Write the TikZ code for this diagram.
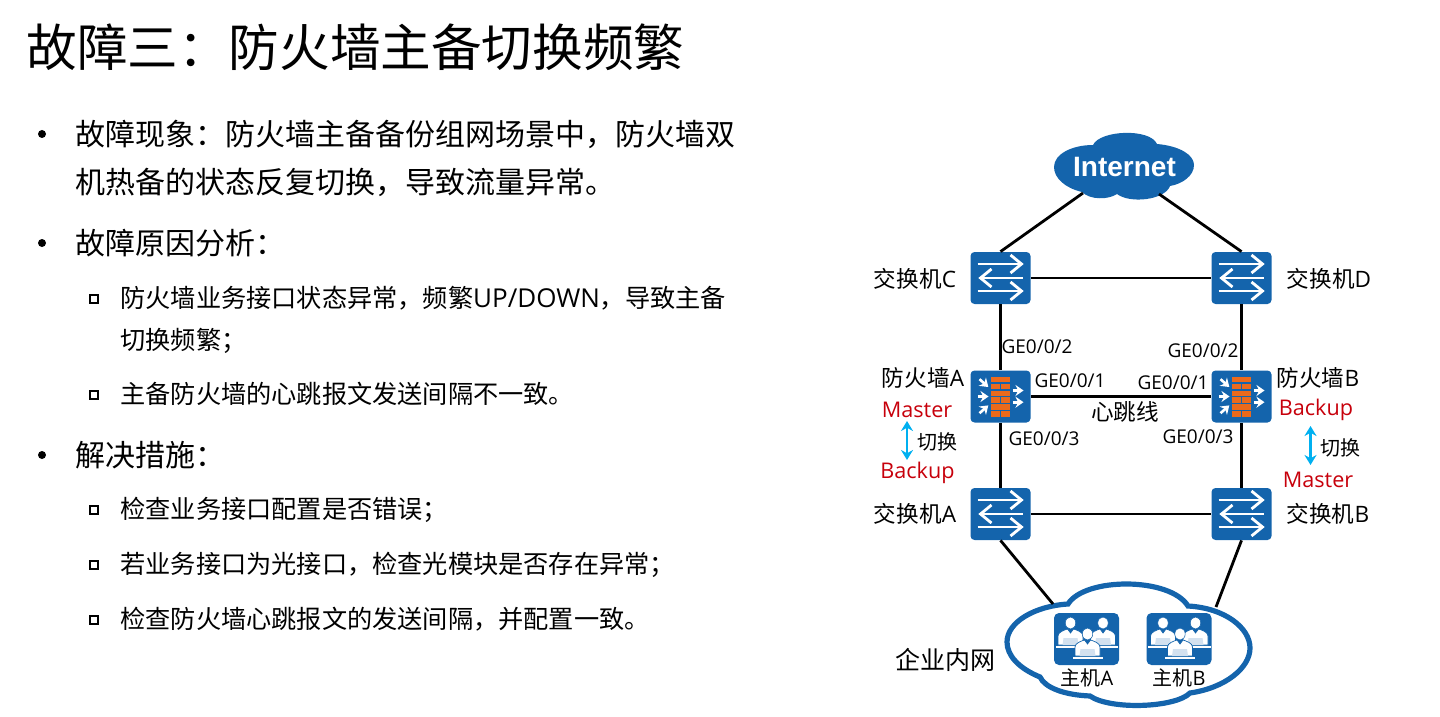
\documentclass[tikz,border=0pt]{standalone}
\usepackage{fontspec}
\setmainfont{Noto Sans CJK SC}
\newfontfamily\la{Open Sans}
\newfontfamily\lb{Liberation Sans}
\usetikzlibrary{arrows.meta}
\definecolor{hwblue}{HTML}{1464AC}
\definecolor{hwred}{HTML}{C7000B}
\definecolor{hworange}{HTML}{EB6A1C}
\definecolor{hwcyan}{HTML}{00B0F0}
\definecolor{hwpale}{HTML}{D3E1EF}
\tikzset{
  x=0.5pt,y=-0.5pt,
  devbox/.style={fill=hwblue,rounded corners=2pt,minimum width=30pt,minimum height=26pt,inner sep=0pt,draw=none},
  hostbox/.style={fill=hwblue,rounded corners=2.5pt,minimum width=32.5pt,minimum height=26pt,inner sep=0pt,draw=none},
  link/.style={draw=black,line width=1.4pt},
  swaparrow/.style={draw=hwcyan,line width=1.3pt,{Stealth[length=5pt,width=6pt]}-{Stealth[length=5pt,width=6pt]}},
  lbl/.style={inner sep=0pt,anchor=center},
  name11/.style={lbl,font=\fontsize{11.3}{13}\selectfont},
  cut10/.style={lbl,font=\fontsize{10}{12}\selectfont},
  ge/.style={lbl,font=\la\fontsize{9.5}{11}\selectfont},
  state/.style={lbl,text=hwred,font=\la\fontsize{10.8}{13}\selectfont},
  title/.style={inner sep=0pt,anchor=west,font=\fontsize{25.3}{30}\selectfont},
  body/.style={inner sep=0pt,anchor=west,font=\fontsize{15}{18}\selectfont},
  sub/.style={inner sep=0pt,anchor=west,font=\fontsize{12.6}{15}\selectfont},
  dot/.style={circle,fill=black,draw=none,inner sep=0pt,minimum size=4pt},
  sq/.style={rectangle,draw=black,fill=white,line width=1pt,inner sep=0pt,minimum size=3.6pt},
  chev/.style={draw=white,line width=1.4pt,line join=miter},
  wharrow/.style={draw=white,line width=1.3pt,-{Stealth[length=4pt,width=5.5pt]}},
  pics/swicon/.style={code={
    \draw[chev] (-23,-14) -- (21,-14);
    \draw[chev] (10,-23) -- (21,-14) -- (10,-5);
    \draw[chev] (22,0) -- (-20,0);
    \draw[chev] (-9,-9) -- (-20,0) -- (-9,9);
    \draw[chev] (-23,13) -- (21,13);
    \draw[chev] (10,4) -- (21,13) -- (10,22);
  }},
  pics/fwicon/.style={code={
    \fill[hworange] (-9.5,-20) rectangle (9.5,-14.5);
    \fill[hworange] (-9.5,-13) rectangle (-1,-7.5);
    \fill[hworange] (0.5,-13) rectangle (9.5,-7.5);
    \fill[hworange] (-9.5,-6) rectangle (9.5,-0.5);
    \fill[hworange] (-9.5,0.5) rectangle (-1,6);
    \fill[hworange] (0.5,0.5) rectangle (9.5,6);
    \fill[hworange] (-9.5,7.5) rectangle (9.5,13);
    \fill[hworange] (-9.5,14.5) rectangle (-1,20);
    \fill[hworange] (0.5,14.5) rectangle (9.5,20);
    \draw[wharrow] (-21,-17.3) -- (-12.2,-9.5);
    \draw[wharrow] (-22.7,0) -- (-12,0);
    \draw[wharrow] (-21,16.7) -- (-12.2,8.9);
    \draw[wharrow] (12.3,-6) -- (23,-6);
    \draw[wharrow] (12.3,5.7) -- (23,5.7);
  }},
  pics/person/.style={code={
    \fill[white,draw=hwblue,line width=0.25pt] (0,0) ellipse [x radius=5.2,y radius=6];
    \fill[white,draw=hwblue,line width=0.35pt] (-12.5,22) -- (-12.5,13) .. controls (-12.5,9) and (-6,7) .. (-3,6) -- (0,10) -- (3,6) .. controls (6,7) and (12.5,9) .. (12.5,13) -- (12.5,22) -- cycle;
    \fill[hwpale] (-8,22) -- (-7,15) -- (7,15) -- (8,22) -- cycle;
    \fill[white] (-15,23) rectangle (15,24.5);
  }},
  pics/teamicon/.style={code={
    \pic at (-16,-16) {person};
    \pic at (16.5,-16) {person};
    \pic at (1,-5) {person};
  }}
}
\begin{document}
\begin{tikzpicture}
\useasboundingbox (0,0) rectangle (1440,717);
% left text
\node[title] (t0) at (26,47) {故障三：防火墙主备切换频繁};
\node[dot] (b1) at (42,134) {};
\node[body] (l1) at (75,134) {故障现象：防火墙主备备份组网场景中，防火墙双};
\node[body] (l2) at (75,182) {机热备的状态反复切换，导致流量异常。};
\node[dot] (b2) at (42,243) {};
\node[body] (l3) at (75,243) {故障原因分析：};
\node[sq] (s1) at (94,299) {};
\node[sub] (l4) at (120,298) {防火墙业务接口状态异常，频繁{\la\fontsize{13}{15}\selectfont UP/DOWN}，导致主备};
\node[sub] (l5) at (120,341) {切换频繁；};
\node[sq] (s2) at (94,395) {};
\node[sub] (l6) at (120,394) {主备防火墙的心跳报文发送间隔不一致。};
\node[dot] (b3) at (42,455) {};
\node[body] (l7) at (75,455) {解决措施：};
\node[sq] (s3) at (94,510) {};
\node[sub] (l8) at (120,510) {检查业务接口配置是否错误；};
\node[sq] (s4) at (94,565) {};
\node[sub] (l9) at (120,565) {若业务接口为光接口，检查光模块是否存在异常；};
\node[sq] (s5) at (94,620) {};
\node[sub] (l10) at (120,619) {检查防火墙心跳报文的发送间隔，并配置一致。};
% internet cloud
\fill[hwblue] (1093,145) .. controls (1100,130) and (1150,128) .. (1157,144)
  .. controls (1180,146) and (1194,155) .. (1194,165)
  .. controls (1194,176) and (1182,184) .. (1170,186)
  .. controls (1165,200) and (1130,204) .. (1117,194)
  .. controls (1108,200) and (1090,200) .. (1082,192)
  .. controls (1065,188) and (1054,178) .. (1054,167)
  .. controls (1054,154) and (1072,145) .. (1093,145) -- cycle;
\node[lbl,text=white,font=\lb\bfseries\fontsize{14}{16}\selectfont] (inet) at (1124.5,167) {Internet};
\coordinate (inetL) at (1083,193);
\coordinate (inetR) at (1159,194);
% enterprise cloud
\draw[hwblue,line width=2.6pt] (1068,604) .. controls (1085,577) and (1170,577) .. (1188,606)
  .. controls (1225,608) and (1250,628) .. (1250,648)
  .. controls (1250,668) and (1225,688) .. (1190,693)
  .. controls (1175,708) and (1110,710) .. (1090,696)
  .. controls (1065,695) and (1045,688) .. (1040,677)
  .. controls (1018,668) and (1007,655) .. (1007,642)
  .. controls (1007,622) and (1035,606) .. (1068,604) -- cycle;
\coordinate (cloudL) at (1053,604);
\coordinate (cloudR) at (1216,607);
% devices
\node[devbox] (swC) at (1000.5,278) {};
\node[devbox] (swD) at (1241.5,278) {};
\node[devbox] (fwA) at (1000.5,396.5) {};
\node[devbox] (fwB) at (1241.5,396.5) {};
\node[devbox] (swA) at (1000.5,514) {};
\node[devbox] (swB) at (1241.5,514) {};
\pic at (swC) {swicon};
\pic at (swD) {swicon};
\pic at (swA) {swicon};
\pic at (swB) {swicon};
\pic at (fwA) {fwicon};
\pic at (fwB) {fwicon};
\node[hostbox] (hostA) at (1086.5,639) {};
\node[hostbox] (hostB) at (1179,639) {};
\pic at (hostA) {teamicon};
\pic at (hostB) {teamicon};
% connectors
\draw[link] (inetL) -- (swC.north);
\draw[link] (inetR) -- (swD.north);
\draw[link] (swC) -- (swD);
\draw[link] (swC) -- (fwA);
\draw[link] (swD) -- (fwB);
\draw[link] (fwA) -- (fwB);
\draw[link] (fwA) -- (swA);
\draw[link] (fwB) -- (swB);
\draw[link] (swA) -- (swB);
\draw[link] (swA.south) -- (cloudL);
\draw[link] (swB.south) -- (cloudR);
% labels
\node[name11] (nC) at (915,279) {交换机{\la C}};
\node[name11] (nD) at (1329,279) {交换机{\la D}};
\node[name11] (nA) at (915,514) {交换机{\la A}};
\node[name11] (nB) at (1328,514) {交换机{\la B}};
\node[name11] (nFA) at (923,378) {防火墙{\la A}};
\node[name11] (nFB) at (1318,378) {防火墙{\la B}};
\node[name11] (hb) at (1125,412) {心跳线};
\node[lbl,font=\fontsize{12.5}{14}\selectfont] (lan) at (945,660) {企业内网};
\node[cut10] (hA) at (1087,678) {主机{\la A}};
\node[cut10] (hB) at (1179,678) {主机{\la B}};
\node[ge] (g1) at (1037,347) {GE0/0/2};
\node[ge] (g2) at (1203,351) {GE0/0/2};
\node[ge] (g3) at (1070,381) {GE0/0/1};
\node[ge] (g4) at (1173,383) {GE0/0/1};
\node[ge] (g5) at (1044,439) {GE0/0/3};
\node[ge] (g6) at (1198,437) {GE0/0/3};
\node[state] (m1) at (917,410) {Master};
\node[state] (k1) at (917.5,473) {Backup};
\node[state] (k2) at (1316,410) {Backup};
\node[state] (m2) at (1318,480) {Master};
\node[cut10] (c1) at (937,442) {切换};
\node[cut10] (c2) at (1340,448) {切换};
\coordinate (a1t) at (907,421);
\coordinate (a1b) at (907,460);
\coordinate (a2t) at (1310.5,426);
\coordinate (a2b) at (1310.5,465);
\draw[swaparrow] (a1t) -- (a1b);
\draw[swaparrow] (a2t) -- (a2b);
\end{tikzpicture}
\end{document}
